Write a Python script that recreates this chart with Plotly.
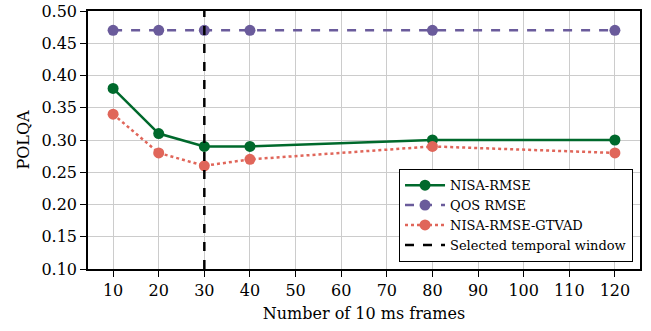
import plotly.graph_objects as go

frames = [10, 20, 30, 40, 80, 120]
nisa_rmse = [0.38, 0.31, 0.29, 0.29, 0.30, 0.30]
qos_rmse = [0.47, 0.47, 0.47, 0.47, 0.47, 0.47]
nisa_gtvad = [0.34, 0.28, 0.26, 0.27, 0.29, 0.28]
selected_window = 30
x_ticks = [10, 20, 30, 40, 50, 60, 70, 80, 90, 100, 110, 120]
y_ticks = [0.10, 0.15, 0.20, 0.25, 0.30, 0.35, 0.40, 0.45, 0.50]

FONT = "DejaVu Serif"

fig = go.Figure()
fig.add_trace(go.Scatter(x=frames, y=nisa_rmse, mode="lines+markers", name="NISA-RMSE",
                         line=dict(color="#00692c", width=2.5),
                         marker=dict(size=11, color="#00692c")))
fig.add_trace(go.Scatter(x=frames, y=qos_rmse, mode="lines+markers", name="QOS RMSE",
                         line=dict(color="#6a5b9b", width=2.5, dash="dash"),
                         marker=dict(size=11, color="#6a5b9b")))
fig.add_trace(go.Scatter(x=frames, y=nisa_gtvad, mode="lines+markers", name="NISA-RMSE-GTVAD",
                         line=dict(color="#e0665a", width=2.5, dash="dot"),
                         marker=dict(size=11, color="#e0665a")))
fig.add_trace(go.Scatter(x=[selected_window, selected_window], y=[0.10, 0.50], mode="lines",
                         name="Selected temporal window",
                         line=dict(color="black", width=2.5, dash="dash")))

axis_common = dict(showline=True, linecolor="black", linewidth=1.5, mirror=True,
                   ticks="outside", ticklen=6, tickwidth=1.2, tickcolor="black",
                   showgrid=True, gridcolor="#cccccc", gridwidth=1, zeroline=False,
                   automargin=False, ticklabeloverflow="allow",
                   tickfont=dict(family=FONT, size=16, color="black"))

fig.update_layout(
    width=651, height=331,
    margin=dict(l=88, r=11, t=11, b=62),
    paper_bgcolor="white", plot_bgcolor="white",
    font=dict(family=FONT, size=16, color="black"),
    xaxis=dict(range=[4.5, 125.5], tickvals=x_ticks,
               title=dict(text="Number of 10 ms frames", font=dict(family=FONT, size=16), standoff=9),
               **axis_common),
    yaxis=dict(range=[0.10, 0.50], tickvals=y_ticks, tickformat=".2f",
               title=dict(text="POLQA", font=dict(family=FONT, size=16), standoff=8),
               **axis_common),
    legend=dict(x=0.987, y=0.027, xanchor="right", yanchor="bottom",
                bgcolor="white", bordercolor="black", borderwidth=1.2,
                font=dict(family=FONT, size=13), tracegroupgap=0, itemwidth=40),
    showlegend=True,
    hovermode=False,
)

fig.write_html("out.html", config={"displayModeBar": False},
               post_script="document.body.style.margin='0';")
